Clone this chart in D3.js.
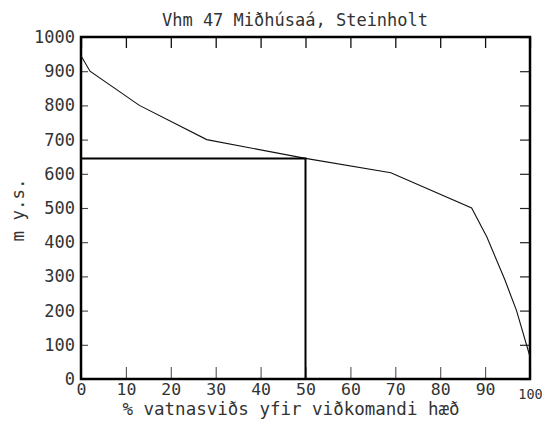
<!DOCTYPE html>
<html>
<head>
<meta charset="utf-8">
<script src="https://cdn.jsdelivr.net/npm/d3@7"></script>
<style>
  html, body { margin: 0; padding: 0; background: #fff; }
  svg { display: block; }
  text { font-family: "DejaVu Sans Mono", monospace; fill: #333; }
</style>
</head>
<body>
<svg id="chart" width="543" height="421"></svg>
<script>
// ---- data ----
const titleText = "Vhm 47 Miðhúsaá, Steinholt";
const xTitle = "% vatnasviðs yfir viðkomandi hæð";
const yTitle = "m y.s.";
const pctArea   = [0, 2, 13, 28, 50, 69, 87, 90.4, 94.4, 97, 100];
const elevation = [945, 900, 800, 700, 645, 603, 500, 415, 290, 200, 65];
const medianPct = [0, 50, 50];
const medianElev = [645, 645, 0];
const xTicks = [0, 10, 20, 30, 40, 50, 60, 70, 80, 90, 100];
const yTicks = [0, 100, 200, 300, 400, 500, 600, 700, 800, 900, 1000];

// ---- layout ----
const L = 81, R = 530, T = 37, B = 379;
const svg = d3.select("#chart");
const x = d3.scaleLinear().domain([0, 100]).range([L, R]);
const y = d3.scaleLinear().domain([0, 1000]).range([B, T]);

// bottom axis (inward ticks, labels)
const gB = svg.append("g").attr("transform", `translate(0,${B})`)
  .call(d3.axisBottom(x).tickValues(xTicks).tickSize(-12).tickPadding(4.5).tickFormat(d3.format("d")));
gB.selectAll("line").attr("stroke", "#555").attr("stroke-width", 1.1);
gB.selectAll("text").style("font-size", "16.5px").attr("fill", "#333")
  .filter(d => d === 100).style("font-size", "13.5px").attr("y", 10);

// top axis
const gT = svg.append("g").attr("transform", `translate(0,${T})`)
  .call(d3.axisTop(x).tickValues(xTicks).tickSize(-11).tickFormat(""));
gT.selectAll("line").attr("stroke", "#111").attr("stroke-width", 1.3);

// left axis
const gL = svg.append("g").attr("transform", `translate(${L},0)`)
  .call(d3.axisLeft(y).tickValues(yTicks).tickSize(-7).tickPadding(6).tickFormat(d3.format("d")));
gL.selectAll("line").attr("stroke", "#444").attr("stroke-width", 1.1);
gL.selectAll("text").style("font-size", "17px").attr("fill", "#333");

// right axis
const gR = svg.append("g").attr("transform", `translate(${R},0)`)
  .call(d3.axisRight(y).tickValues(yTicks).tickSize(-10).tickFormat(""));
gR.selectAll("line").attr("stroke", "#222").attr("stroke-width", 1.2);

[gB, gT, gL, gR].forEach(g => g.select(".domain").remove());

// frame
svg.append("rect").attr("x", L).attr("y", T).attr("width", R - L).attr("height", B - T)
  .attr("fill", "none").attr("stroke", "#000").attr("stroke-width", 2.5);

// hypsometric curve
const line = d3.line().x(d => x(d[0])).y(d => y(d[1]));
svg.append("path").datum(d3.zip(pctArea, elevation)).attr("d", line)
  .attr("fill", "none").attr("stroke", "#111").attr("stroke-width", 1.1);

// median reference lines
svg.append("path").datum(d3.zip(medianPct, medianElev)).attr("d", line)
  .attr("fill", "none").attr("stroke", "#000").attr("stroke-width", 2);

// titles
svg.append("text").attr("x", 295).attr("y", 26).attr("text-anchor", "middle")
  .style("font-size", "17px").text(titleText);
svg.append("text").attr("x", 291).attr("y", 415).attr("text-anchor", "middle")
  .style("font-size", "17.5px").text(xTitle);
svg.append("text").attr("transform", "translate(24,210) rotate(-90)").attr("text-anchor", "middle")
  .style("font-size", "17.5px").text(yTitle);
</script>
</body>
</html>
